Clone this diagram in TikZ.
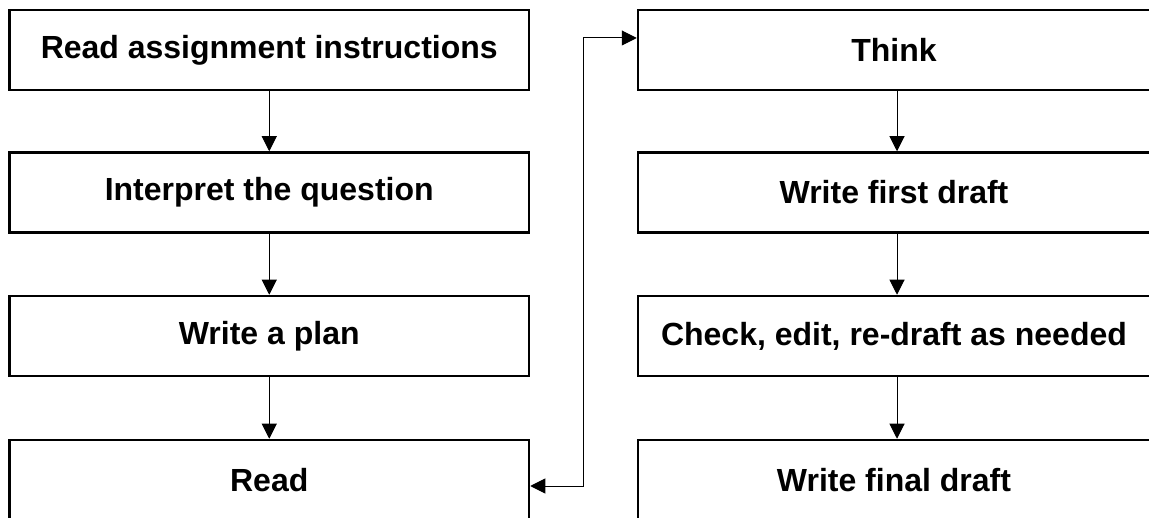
\documentclass[tikz,border=0pt]{standalone}
\usepackage{fontspec}
\setmainfont{Liberation Sans}
\usetikzlibrary{arrows.meta}
\begin{document}
\begin{tikzpicture}[x=1pt,y=-1pt,
  stepbox/.style={draw=black,line width=2.5pt,minimum width=519.5pt,minimum height=80pt,inner sep=0pt,
    font=\fontsize{32}{36}\selectfont\bfseries},
  rstepbox/.style={stepbox,minimum width=512pt},
  conn/.style={line width=1pt,-{Triangle[length=15pt,width=15pt]}},
  dconn/.style={line width=1pt,{Triangle[length=15pt,width=15pt]}-{Triangle[length=15pt,width=15pt]}}]
\clip (0,0) rectangle (1149,518);
\useasboundingbox (0,0) rectangle (1149,518);
\fill[white] (0,0) rectangle (1149,518);
\node[stepbox] (b1) at (269.25,50) {Read assignment instructions};
\node[stepbox] (b2) at (269.25,192.5) {Interpret the question};
\node[stepbox] (b3) at (269.25,336) {Write a plan};
\node[stepbox] (b4) at (269.25,480) {Read};
\node[rstepbox] (r1) at (894,50) {Think};
\node[rstepbox] (r2) at (894,192.5) {Write first draft};
\node[rstepbox] (r3) at (894,336) {Check, edit, re-draft as needed};
\node[rstepbox] (r4) at (894,480) {Write final draft};
\coordinate (a1) at (897,0);
\draw[conn] (b1) -- (b2);
\draw[conn] (b2) -- (b3);
\draw[conn] (b3) -- (b4);
\draw[conn] (r1.south -| a1) -- (r2.north -| a1);
\draw[conn] (r2.south -| a1) -- (r3.north -| a1);
\draw[conn] (r3.south -| a1) -- (r4.north -| a1);
\coordinate (j1) at (583,486);
\coordinate (j2) at (583,38);
\draw[dconn] (j1 -| b4.east) -- (j1) -- (j2) -- (j2 -| r1.west);
\end{tikzpicture}
\end{document}
